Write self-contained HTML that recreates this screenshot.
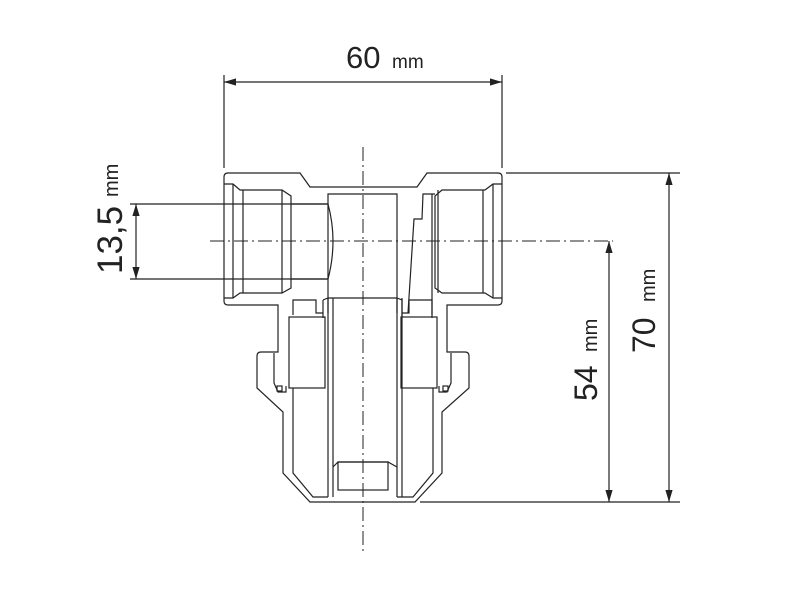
<!DOCTYPE html>
<html><head><meta charset="utf-8"><style>
html,body{margin:0;padding:0;background:#fff}
svg{display:block}
text{font-family:"Liberation Sans",sans-serif;fill:#222}
</style></head><body>
<svg width="800" height="600" viewBox="0 0 800 600" xmlns="http://www.w3.org/2000/svg">
<defs>
<marker id="a" viewBox="0 0 10 10" refX="10" refY="5" markerWidth="12" markerHeight="12" markerUnits="userSpaceOnUse" orient="auto-start-reverse"><path d="M0,2 L10,5 L0,8 z" fill="#222"/></marker>
</defs>
<g stroke="#222" stroke-width="1.2" fill="none">
<line x1="224" y1="75" x2="224" y2="168"/>
<line x1="502" y1="75" x2="502" y2="168"/>
<line x1="506" y1="173" x2="680" y2="173"/>
<line x1="420" y1="502" x2="680" y2="502"/>
<line x1="130" y1="204" x2="328" y2="204"/>
<line x1="130" y1="279" x2="328" y2="279"/>
<line x1="224" y1="82" x2="502" y2="82" marker-start="url(#a)" marker-end="url(#a)"/>
<line x1="669" y1="173" x2="669" y2="502" marker-start="url(#a)" marker-end="url(#a)"/>
<line x1="609" y1="241" x2="609" y2="502" marker-start="url(#a)" marker-end="url(#a)"/>
<line x1="136" y1="204" x2="136" y2="279" marker-start="url(#a)" marker-end="url(#a)"/>
<line x1="363" y1="147" x2="363" y2="552" stroke-dasharray="14,4,2,4" stroke-width="1"/>
<line x1="210" y1="241" x2="613" y2="241" stroke-dasharray="14,4,2,4" stroke-width="1"/>
<path d="M228,173 L300,173 L310,187 L417,187 L427,173 L498,173 Q502,173 502,177 L502,301 Q502,305 498,305 L447,305 L447,352 L465,352 Q469,352 469,356 L469,388 L442,412 L442,473 L415,502 L310,502 L283,473 L283,412 L257,388 L257,356 Q257,352 261,352 L278,352 L278,305 L228,305 Q224,305 224,301 L224,177 Q224,173 228,173 Z"/>
<path d="M224,184 L233,184 L240,190 L282,190 L291,196 L291,288 L282,293 L240,293 L233,298 L224,298"/>
<line x1="233" y1="184" x2="233" y2="298"/>
<line x1="243" y1="190" x2="243" y2="293"/>
<line x1="282" y1="190" x2="282" y2="293"/>
<path d="M291,204 L328,204 Q338,241 328,279 L291,279"/>
<path d="M502,184 L493,184 L485,190 L442,190 L435,196 L435,288 L442,293 L485,293 L493,298 L502,298"/>
<line x1="493" y1="184" x2="493" y2="298"/>
<line x1="483" y1="190" x2="483" y2="293"/>
<line x1="438" y1="190" x2="438" y2="293"/>
<path d="M435,194 L423,194 L422,219 L414,219 L408,313"/>
<line x1="432" y1="194" x2="432" y2="318"/>
<path d="M328,313 L328,194 L397,194 L397,313"/>
<path d="M323,300 L328,298 L397,298 L402,300"/>
<line x1="328" y1="298" x2="328" y2="497"/>
<line x1="333" y1="298" x2="333" y2="497"/>
<line x1="397" y1="298" x2="397" y2="497"/>
<line x1="402" y1="298" x2="402" y2="497"/>
<line x1="323" y1="300" x2="323" y2="318"/>
<line x1="402" y1="300" x2="402" y2="318"/>
<path d="M333,467 L338,462 L388,462 L397,467"/>
<rect x="338" y="462" width="50" height="28"/>
<path d="M293,315 L293,300 L316,300 L316,313 L323,313"/>
<rect x="289" y="317" width="36" height="71"/>
<path d="M293,388 L293,473 L313,497 L328,497"/>
<path d="M432,315 L432,300 L409,300 L409,313 L402,313"/>
<rect x="401" y="317" width="36" height="71"/>
<path d="M433,388 L433,473 L413,497 L397,497"/>
<path d="M274,353 L274,383 L278,392 L286,392 L286,386"/>
<rect x="277" y="386" width="5" height="5"/>
<path d="M451,353 L451,383 L447,392 L439,392 L439,386"/>
<rect x="443" y="386" width="5" height="5"/>
</g>
<text x="346" y="68" font-size="31">60</text>
<text x="392" y="68" font-size="19">mm</text>
<text transform="translate(122,274) rotate(-90)" font-size="35">13,5</text>
<text transform="translate(118,197) rotate(-90)" font-size="20">mm</text>
<text transform="translate(597,401) rotate(-90)" font-size="32">54</text>
<text transform="translate(597,352) rotate(-90)" font-size="20">mm</text>
<text transform="translate(655,353) rotate(-90)" font-size="32">70</text>
<text transform="translate(655,302) rotate(-90)" font-size="20">mm</text>
</svg>
</body></html>
